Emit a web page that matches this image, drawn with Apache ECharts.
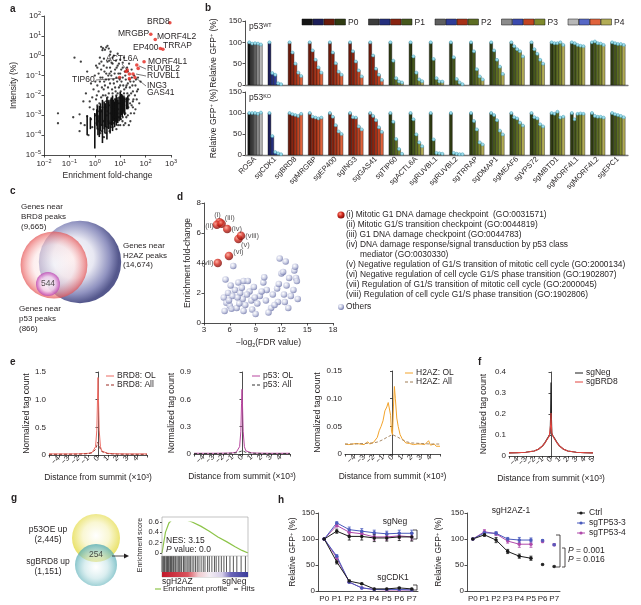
<!DOCTYPE html>
<html><head><meta charset="utf-8">
<script src="https://cdn.jsdelivr.net/npm/echarts@6.0.0/dist/echarts.min.js"></script>
<style>html,body{margin:0;padding:0;background:#fff;}#chart{width:641px;height:605px;}</style>
</head><body><div id="chart"></div>
<script>
const FF = '"Liberation Sans", Arial, Helvetica, sans-serif';
const TXT = '#231f20';

// ---------- Panel a : MS enrichment ----------
const aBlackLog = [
[-1.45,-2.9],[-1.45,-3.4],[-0.85,-3.1],[-0.6,-2.95],[-0.55,-3.4],[-0.45,-2.3],[-0.3,-3.05],[-0.2,-2.6],[-0.1,-3.6],[-0.8,-0.1],[-0.55,-0.3],[-0.3,-0.8],[-0.15,-1.4],[-0.35,-1.9],[-0.1,-2.1],[0.0,-1.0],[0.05,-0.5],[-0.6,-3.8],[-0.25,-4.0],[-0.4,-3.5],[-0.05,-1.7],[-0.2,-2.3],[-0.05,-2.7],[-0.15,-3.2],
[0.25,0.45],[0.32,0.38],[0.4,0.3],[0.45,0.42],[0.5,0.5],[0.55,0.36],[0.3,0.28],[0.62,0.2],[0.2,-0.1],
[0.1,-0.6],[0.15,-0.9],[0.2,-1.3],[0.25,-0.7],[0.3,-1.1],[0.35,-0.5],[0.4,-1.5],[0.45,-0.9],[0.5,-0.3],[0.55,-1.2],[0.6,-0.6],[0.65,-1.0],[0.7,-0.4],[0.75,-1.4],[0.8,-0.7],[0.85,-1.1],[0.9,-0.5],[0.95,-1.6],[1.0,-0.9],[1.05,-1.3],[1.1,-0.6],[1.15,-1.9],[1.2,-1.0],[1.25,-1.5],[1.3,-0.8],[0.15,-1.8],[0.25,-2.1],[0.35,-1.7],[0.45,-2.3],[0.55,-1.9],[0.65,-2.2],[0.75,-2.6],[0.85,-2.0],[0.95,-2.4],[1.05,-2.2],[1.15,-2.7],[1.25,-2.3],[1.35,-2.0],[1.4,-1.3],[1.45,-2.5],[1.5,-1.8],[1.55,-2.9],[1.6,-1.5],[1.65,-2.2],[1.7,-1.1],
[0.1,-2.5],[0.2,-3.0],[0.3,-2.6],[0.4,-3.2],[0.5,-2.8],[0.6,-3.4],[0.7,-3.0],[0.8,-3.3],[0.9,-2.9],[1.0,-3.5],[1.1,-3.1],[1.2,-3.4],[1.3,-3.0],[1.4,-3.3],[1.5,-2.6],[1.6,-2.7],[0.12,-3.7],[0.22,-3.9],[0.36,-4.1],[0.48,-3.6],[0.58,-3.8],[0.7,-3.6],[0.85,-3.7],
[1.35,-0.4],[1.0,-0.2],[0.9,0.1],[0.7,-0.1],[0.6,0.05],[1.1,-0.35],[1.45,-0.7],[1.55,-1.0],[1.7,-1.7],[1.8,-1.3],[1.75,-2.4],
[0.02,-1.3],[0.08,-2.0],[0.18,-0.4],[0.28,-1.6],[0.38,-0.8],[0.42,-2.0],[0.52,-1.6],[0.58,-0.9],[0.68,-1.7],[0.72,-2.4],[0.78,-0.9],[0.82,-1.8],[0.88,-1.3],[0.92,-2.7],[0.98,-1.2],[1.02,-1.8],[1.08,-2.6],[1.12,-1.5],[1.18,-2.2],[1.22,-1.2],[1.28,-1.9],[1.32,-2.6],[1.38,-1.6],[1.42,-2.9],[1.48,-1.5],[1.52,-2.2],
[0.05,-2.2],[0.1,-1.5],[0.12,-2.8],[0.18,-2.4],[0.22,-1.1],[0.27,-2.8],[0.32,-2.0],[0.33,-3.3],[0.37,-1.3],[0.42,-2.6],[0.44,-1.2],[0.47,-3.0],[0.5,-2.1],[0.53,-1.0],[0.56,-2.5],[0.6,-1.4],[0.62,-2.9],[0.64,-0.8],[0.67,-2.6],[0.7,-1.9],[0.73,-1.2],[0.76,-3.1],[0.79,-2.2],[0.8,-1.6],[0.83,-2.8],[0.86,-0.6],[0.87,-2.4],[0.9,-1.9],[0.93,-0.9],[0.95,-3.1],[0.97,-2.1],[1.0,-1.5],[1.02,-2.9],[1.04,-0.7],[1.07,-2.0],[1.09,-3.3],[1.1,-1.1],[1.13,-2.4],[1.16,-1.7],[1.18,-0.8],[1.2,-2.9],[1.23,-1.6],[1.26,-2.5],[1.27,-0.6],[1.3,-1.4],[1.33,-2.2],[1.36,-1.2],[1.39,-2.4],[1.43,-1.9],[1.46,-1.1],[1.5,-2.3],[1.53,-1.3],[1.58,-2.0],[1.62,-1.2],[1.66,-1.8],
[0.03,-3.0],[0.07,-3.4],[0.14,-3.3],[0.24,-3.5],[0.29,-3.8],[0.39,-3.5],[0.45,-3.9],[0.54,-3.3],[0.63,-3.6],[0.74,-3.4],[0.83,-3.2],[0.92,-3.5],[1.03,-3.2],[1.14,-3.5],[1.24,-3.1],[1.34,-3.5],[0.26,-0.3],[0.36,-0.15],[0.47,-0.6],[0.57,-0.25],[0.66,-0.35],[0.75,0.0],[0.83,-0.25],[0.95,-0.4],[1.15,-0.1]
];
// dense vertical streaks: [fold-change, low intensity, high intensity]
const aColumns = [[1,2.1e-5,1.3e-3],[1.33,1e-4,1e-3],[1.5,8e-5,3e-3],[2,4e-5,6e-3],[2.5,1.2e-4,4e-3],[3,6e-5,8e-3],[3.5,2e-4,5e-3],[4,1.2e-4,6e-3],[5,1.6e-4,1e-2],[6,2.5e-4,5e-3],[7,3e-4,1e-2],[8,4e-4,6e-3],[9,5e-4,8e-3],[10,6e-4,1.5e-2],[12,8e-4,1e-2],[15,1e-3,8e-3],[0.5,1e-4,1e-3],[0.67,2e-4,8e-4],
[1.2,3e-4,2e-3],[1.25,2e-4,3e-3],[1.67,1.5e-4,4e-3],[1.75,3e-4,2e-3],[2.33,2e-4,5e-3],[2.67,2.5e-4,4e-3],[3.33,3e-4,6e-3],[4.5,3e-4,8e-3],[5.5,5e-4,6e-3],[6.5,5e-4,7e-3],[7.5,6e-4,8e-3],[11,1e-3,1.2e-2],[13,1.2e-3,8e-3],[14,1.5e-3,1e-2],[18,2e-3,8e-3],[20,2e-3,1e-2]];
const aRedX = [900,160,240,380,480,87,45,51,32,38,23,17,9.5,23,19];
const aRedY = [46,12,6.6,2.3,2.1,0.5,0.34,0.23,0.12,0.08,0.07,0.16,0.08,0.12,0.19];
const aLabelText = ['BRD8','MRGBP','MORF4L2','EP400','TRRAP','ACTL6A','MORF4L1','RUVBL2','RUVBL1','TIP60','ING3','GAS41'];

// ---------- Panel b : competition assays ----------
const bCats = ['ROSA','sgCDK1','sgBRD8','sgMRGBP','sgEP400','sgING3','sgGAS41','sgTIP60','sgACTL6A','sgRUVBL1','sgRUVBL2','sgTRRAP','sgDMAP1','sgMEAF6','sgVPS72','sgMBTD1','sgMORF4L1','sgMORF4L2','sgEPC1'];
const bFamily = [0,1,2,2,2,2,2,3,3,3,3,3,3,3,3,3,3,3,3];
const bPassages = ['P0','P1','P2','P3','P4'];
const bWT = [
[100,97,98,97,95],[100,28,24,4,2],[100,76,50,29,21],[100,81,59,41,29],[100,76,51,31,24],[100,79,55,34,20],[100,69,38,24,12],[100,57,16,8,6],
[100,67,29,13,9],[100,61,16,8,8],[100,65,14,6,2],[100,79,37,20,13],[100,81,59,43,26],[100,91,84,79,67],[100,84,73,59,50],[100,98,98,100,94],[100,98,94,92,91],[100,102,98,97,94],[100,98,96,96,94]];
const bKO = [
[100,100,100,98,101],[100,45,7,4,2],[100,97,95,93,98],[100,91,89,87,89],[100,91,71,56,50],[100,90,89,68,61],[100,93,83,66,55],[100,79,38,14,3],
[100,85,49,30,21],[100,37,5,4,3],[100,5,3,2,2],[100,81,61,30,25],[100,95,83,58,49],[100,90,87,77,70],[100,90,87,73,68],[100,98,103,89,91],[100,85,98,99,98],[100,93,91,91,89],[100,97,95,93,90]];

// ---------- Panel c : Venn ----------
const cSetNames = ['H2AZ','BRD8','p53'];
const cCounts = [14674, 9665, 866];
const cOverlap = 544;

// ---------- Panel d : GO enrichment ----------
const dTermX = [4.8,4.5,5.05,5.7,7.0,5.9,4.6,7.3];
const dTermY = [6.72,6.55,6.62,6.27,5.6,4.47,4.0,5.82];
const dTermLab = ['(i)','(ii)','(iii)','(iv)','(v)','(vi)','(vii)','(viii)'];
const dOthers = [[5.3,1.7],[5.6,1.35],[5.8,2.0],[5.5,2.9],[6.0,1.15],[6.3,1.8],[6.4,3.8],[6.6,2.2],[6.2,0.95],[5.9,1.5],[7.0,2.7],[7.2,2.0],[7.5,1.6],[7.4,2.35],[7.8,1.2],[7.6,2.8],[8.1,2.8],[8.3,2.1],[8.5,1.5],[8.0,1.9],[8.8,2.4],[8.6,0.9],[9.2,1.3],[9.5,1.8],[9.9,2.7],[10.0,3.05],[10.3,2.2],[10.2,1.5],[10.8,1.0],[11.0,1.9],[11.5,2.3],[11.7,2.6],[11.8,4.3],[11.6,1.4],[12.0,3.3],[12.2,3.4],[12.5,4.1],[12.3,1.9],[12.6,2.5],[12.8,1.0],[13.1,1.8],[13.5,3.5],[13.6,3.75],[13.7,3.0],[13.4,2.2],[13.9,1.6],[6.8,1.0],[7.6,0.8],[9.0,0.6],[10.5,0.7],[5.4,0.8],[6.9,1.7],[8.9,1.7],[11.2,1.2],[13.8,2.8],[12.9,3.0],[6.1,2.5],[7.1,1.3],[9.7,2.1],[12.4,1.4]];
const dLegend = ['(i) Mitotic G1 DNA damage checkpoint  (GO:0031571)','(ii) Mitotic G1/S transition checkpoint (GO:0044819)','(iii) G1 DNA damage checkpoint (GO:0044783)','(iv) DNA damage response/signal transduction by p53 class','      mediator (GO:0030330)','(v) Negative regulation of G1/S transition of mitotic cell cycle (GO:2000134)','(vi) Negative regulation of cell cycle G1/S phase transition (GO:1902807)','(vii) Regulation of G1/S transition of mitotic cell cycle (GO:2000045)','(viii) Regulation of cell cycle G1/S phase transition (GO:1902806)'];

// ---------- Panel e / f : tag density profiles ----------
const eX = [-5,-4,-3,-2,-1.5,-1,-0.6,-0.4,-0.25,-0.12,-0.05,0,0.05,0.12,0.25,0.4,0.6,1,1.5,2,3,4,5];
const eBRD8OL = [0.02,0.02,0.02,0.022,0.025,0.03,0.045,0.07,0.15,0.45,1.0,1.4,1.0,0.45,0.15,0.07,0.045,0.03,0.025,0.022,0.02,0.02,0.02];
const eBRD8All = [0.012,0.012,0.013,0.015,0.018,0.025,0.04,0.06,0.1,0.17,0.23,0.25,0.23,0.17,0.1,0.06,0.04,0.025,0.018,0.015,0.013,0.012,0.012];
const eP53OL = [0.008,0.008,0.008,0.009,0.01,0.012,0.02,0.035,0.08,0.25,0.55,0.71,0.55,0.25,0.08,0.035,0.02,0.012,0.01,0.009,0.008,0.008,0.008];
const eP53All = [0.005,0.005,0.005,0.006,0.007,0.009,0.013,0.018,0.025,0.032,0.036,0.038,0.036,0.032,0.025,0.018,0.013,0.009,0.007,0.006,0.005,0.005,0.005];
const eH2AZOL = [[-5,0.018],[-4.8,0.02],[-4.6,0.017],[-4.4,0.019],[-4.2,0.018],[-4,0.016],[-3.8,0.019],[-3.6,0.017],[-3.4,0.018],[-3.2,0.02],[-3,0.017],[-2.8,0.019],[-2.6,0.022],[-2.4,0.018],[-2.2,0.02],[-2,0.021],[-1.8,0.024],[-1.6,0.03],[-1.4,0.042],[-1.2,0.05],[-1.0,0.06],[-0.8,0.078],[-0.6,0.085],[-0.45,0.093],[-0.3,0.096],[-0.2,0.07],[-0.1,0.04],[0,0.035],[0.1,0.085],[0.2,0.122],[0.3,0.1],[0.45,0.065],[0.6,0.05],[0.8,0.035],[1.0,0.028],[1.2,0.024],[1.4,0.02],[1.6,0.021],[1.8,0.019],[2,0.02],[2.2,0.017],[2.4,0.019],[2.6,0.018],[2.8,0.016],[3,0.018],[3.2,0.015],[3.4,0.017],[3.6,0.016],[3.8,0.024],[4,0.016],[4.2,0.015],[4.4,0.018],[4.6,0.014],[4.8,0.016],[5,0.014]];
const eH2AZAll = [[-5,0.018],[-4,0.018],[-3,0.019],[-2,0.02],[-1.5,0.022],[-1,0.026],[-0.5,0.031],[0,0.035],[0.5,0.031],[1,0.026],[1.5,0.022],[2,0.02],[3,0.019],[4,0.018],[5,0.018]];
const eTicks = [-4,-3,-2,-1,0,1,2,3,4];
const fX = [-5,-4,-3,-2,-1.5,-1,-0.7,-0.4,-0.2,-0.1,-0.04,0,0.04,0.1,0.2,0.4,0.7,1,1.5,2,3,4,5];
const fNeg = [0.015,0.016,0.018,0.024,0.032,0.048,0.065,0.085,0.098,0.108,0.2,0.35,0.2,0.108,0.098,0.085,0.065,0.048,0.032,0.024,0.018,0.016,0.015];
const fBRD8 = [0.015,0.016,0.018,0.024,0.032,0.048,0.064,0.083,0.096,0.105,0.15,0.205,0.15,0.105,0.096,0.083,0.064,0.048,0.032,0.024,0.018,0.016,0.015];
const fTicks = [-4,-3,-2,-1,0,1,2,3,4,5];

// ---------- Panel g : Venn + GSEA ----------
const gSetNames = ['p53OE up','sgBRD8 up'];
const gCounts = [2445, 1151];
const gOverlap = 254;
const gRank = [0,4,8,12,18,25,35,45,55,65,75,85,93,100];
const gES = [0,0.4,0.58,0.65,0.67,0.66,0.6,0.52,0.42,0.31,0.22,0.12,0.05,0];
const gHits = [0,1,2,3,4.5,5.5,6.5,7.5,9,10,11,12.5,13.5,15,16,17.5,19,20.5,22,23,25,26.5,28,30,31.5,33,35,37,39,41,43,45.5,48,50,53,55,58,61,63,66,69,72,75,79,83,87,92,97];
const gNES = 3.15, gP = '0.0';

// ---------- Panel h : competition time courses ----------
const hCats = ['P0','P1','P2','P3','P4','P5','P6','P7'];
const hNames = ['Ctrl','sgTP53-3','sgTP53-4'];
const hNeg = [[100,115,105,105,102,102,104,104],[100,131,118,115,112,110,111,111],[100,126,113,110,104,104,106,104]];
const hNegErr = [[0,4,7,7,7,6,7,8],[0,2,5,5,5,5,6,6],[0,3,5,5,6,6,5,6]];
const hCdk = [[100,56,19,14,4,4,6,4],[100,67,17,6,3,3,3,2],[100,64,17,6,3,2,2,2]];
const hCdkErr = [[0,4,2,1,1,1,1,1],[0,3,1,1,1,1,1,1],[0,3,1,1,1,1,1,1]];
const hH2AZ = [[100,108,98,76,67,63,51,47],[100,112,111,100,98,98,97,89],[100,114,110,96,90,90,95,89]];
const hH2AZErr = [[0,3,5,4,4,4,1,1],[0,3,3,3,5,4,2,1],[0,4,3,4,6,6,2,2]];
const hLinked = 6; // passages P0..P5 joined by a line in sgH2AZ-1

// ================= styling / building =================
const bPal = [
  ['#141414','#3c3c3c','#5f5f5f','#8b8b8b','#b7b7b7'],
  ['#1c1e5a','#252f7d','#2f3c98','#3b4aae','#5768c6'],
  ['#6b1b0c','#882410','#a73117','#c24422','#e0633c'],
  ['#2f3b12','#46581c','#5d6d23','#7f8a2d','#b2ac55']
];
const hCol = ['#1a1a1a','#4a5bbd','#b04aab'];
const supRich = {s:{fontSize:5.5, verticalAlign:'top', fontFamily:FF, color:TXT, lineHeight:6}};

function ax(g, o){
  const b = {gridIndex:g,
    axisLine:{show:true, lineStyle:{color:'#222', width:0.8}},
    axisTick:{show:true, length:2.5, lineStyle:{color:'#222', width:0.8}},
    axisLabel:{fontSize:8, color:TXT, fontFamily:FF, margin:3},
    splitLine:{show:false},
    nameTextStyle:{fontSize:8.5, color:TXT, fontFamily:FF, rich:supRich}};
  for (const k in o){
    if (b[k] && typeof b[k]==='object' && !Array.isArray(b[k]) && o[k] && typeof o[k]==='object' && !Array.isArray(o[k])) b[k] = Object.assign({}, b[k], o[k]);
    else b[k] = o[k];
  }
  return b;
}
const hid = (g, min, max, inv) => ({gridIndex:g, type:'value', min, max, show:false, inverse:!!inv});
const G = (l,t,w,h) => ({left:l, top:t, width:w, height:h, outerBoundsMode:'none', containLabel:false});
const logFmt = v => { const e = Math.round(Math.log10(v)); return '10{s|' + (e<0 ? '\u2212' + (-e) : e) + '}'; };
const signed = v => (v<0 ? '\u2212' + (-v) : '' + v);

const grids = [
  G(44,16,127,139),   //0 a
  G(245,21,383,64),   //1 b WT
  G(245,92,383,63),   //2 b KO
  G(0,190,170,140),   //3 c venn
  G(204,203,129,120), //4 d
  G(49,372,98,83),    //5 e1
  G(194,372,96,82),   //6 e2
  G(345,371,95,83),   //7 e3
  G(509,372,84,84),   //8 f
  G(20,505,110,90),   //9 g venn
  G(162,522,86,31),   //10 gsea ES
  G(162,556,86,16),   //11 gsea hits
  G(318,513,100,78),  //12 h1
  G(467,513,93,78)    //13 h2
];

const eXAxis = (g, ticks) => ax(g, {type:'value', min:-5, max:5, interval:1,
  axisLabel:{rotate:45, fontSize:7.5, margin:2, formatter: v => ticks.indexOf(v) >= 0 ? signed(v) : ''},
  name:'Distance from summit (\u00d710{s|3})', nameLocation:'middle', nameGap:18});

const xAxes = [
  ax(0,{type:'log', logBase:10, min:0.01, max:1000, splitNumber:5, axisLabel:{formatter:logFmt, rich:supRich, lineHeight:11},
        name:'Enrichment fold-change', nameLocation:'middle', nameGap:16}),
  ax(1,{type:'category', data:bCats, axisLabel:{show:false}, axisTick:{show:false}, axisLine:{show:true, lineStyle:{color:'#7a7a7a', width:1.3}}}),
  ax(2,{type:'category', data:bCats, axisLabel:{rotate:45, interval:0, fontSize:7.5, margin:3}, axisTick:{show:false}, axisLine:{show:true, lineStyle:{color:'#7a7a7a', width:1.3}}}),
  hid(3,0,170),
  ax(4,{type:'value', min:3, max:18, interval:3, name:'\u2212log{b|2}(FDR value)', nameLocation:'middle', nameGap:14,
        nameTextStyle:{rich:{b:{fontSize:5.5, verticalAlign:'bottom', fontFamily:FF, color:TXT, lineHeight:6}}, lineHeight:11}}),
  eXAxis(5, eTicks), eXAxis(6, eTicks), eXAxis(7, eTicks), eXAxis(8, fTicks),
  hid(9,0,110),
  hid(10,0,100), hid(11,0,100),
  ax(12,{type:'category', data:hCats, boundaryGap:true, axisTick:{show:false}, axisLabel:{fontSize:8, margin:4, interval:0}}),
  ax(13,{type:'category', data:hCats, boundaryGap:true, axisTick:{show:false}, axisLabel:{fontSize:8, margin:4, interval:0}})
];
const gfpName = 'Relative GFP{s|+} (%)';
const yAxes = [
  ax(0,{type:'log', logBase:10, min:1e-5, max:100, splitNumber:7, axisLabel:{formatter:logFmt, rich:supRich, lineHeight:11},
        name:'Intensity (%)', nameLocation:'middle', nameGap:26}),
  ax(1,{type:'value', min:0, max:150, interval:50, name:gfpName, nameLocation:'middle', nameGap:18}),
  ax(2,{type:'value', min:0, max:150, interval:50, name:gfpName, nameLocation:'middle', nameGap:18}),
  hid(3,0,140,true),
  ax(4,{type:'value', min:0, max:8, interval:2, name:'Enrichment fold-change', nameLocation:'middle', nameGap:12}),
  ax(5,{type:'value', min:0, max:1.5, interval:0.5, axisLabel:{formatter:v=>v===0?'0':v.toFixed(1)}, name:'Normalized tag count', nameLocation:'middle', nameGap:17}),
  ax(6,{type:'value', min:0, max:0.9, interval:0.3, axisLabel:{formatter:v=>v===0?'0':v.toFixed(1)}, name:'Normalized tag count', nameLocation:'middle', nameGap:17}),
  ax(7,{type:'value', min:0, max:0.15, interval:0.05, axisLabel:{formatter:v=>v===0?'0':v.toFixed(2)}, name:'Normalized tag count', nameLocation:'middle', nameGap:18}),
  ax(8,{type:'value', min:0, max:0.4, interval:0.1, axisLabel:{formatter:v=>v===0?'0':v.toFixed(1)}, name:'Normalized tag count', nameLocation:'middle', nameGap:21}),
  hid(9,0,90,true),
  ax(10,{type:'value', min:0, max:0.6, interval:0.2, axisLabel:{fontSize:7.5, formatter:v=>v===0?'0':v.toFixed(1)}, axisLine:{show:false}, axisTick:{length:2}}),
  hid(11,0,1),
  ax(12,{type:'value', min:0, max:150, interval:50, name:gfpName, nameLocation:'middle', nameGap:21}),
  ax(13,{type:'value', min:0, max:150, interval:50, name:gfpName, nameLocation:'middle', nameGap:24})
];

// ---- series ----
const series = [];
// a
series.push({type:'custom', xAxisIndex:0, yAxisIndex:0, silent:true, data:aColumns, encode:{x:0, y:[1,2]},
  renderItem:(p, api) => { const a = api.coord([api.value(0), api.value(1)]), b = api.coord([api.value(0), api.value(2)]);
    return {type:'line', shape:{x1:a[0], y1:a[1], x2:b[0], y2:b[1]}, style:{stroke:'#111', lineWidth:1.6}}; }});
series.push({type:'scatter', xAxisIndex:0, yAxisIndex:0, silent:true, symbolSize:2.3, itemStyle:{color:'#111'},
  data:aBlackLog.map(p => [Math.pow(10,p[0]), Math.pow(10,p[1])])});
series.push({type:'scatter', xAxisIndex:0, yAxisIndex:0, silent:true, symbolSize:3.6, itemStyle:{color:'#e3241b'},
  data:aRedX.map((x,i)=>[x, aRedY[i]])});

// b
function bRender(params, api){
  const ci = api.value(0), p = api.value(1), v = api.value(2);
  const top = api.coord([ci, v]), base = api.coord([ci, 0]);
  const band = api.size([1,0])[0];
  const bw = band*0.72/5;
  const x = top[0] - band*0.36 + p*bw;
  return {type:'group', children:[
    {type:'rect', shape:{x:x, y:top[1], width:bw, height:base[1]-top[1]}, style:{fill:bPal[bFamily[ci]][p], stroke:'#151515', lineWidth:0.4}},
    {type:'circle', shape:{cx:x+bw/2, cy:top[1], r:1.5}, style:{fill:'#a3dfec', stroke:'#3c9cb6', lineWidth:0.5}}
  ]};
}
const bData = arr => arr.flatMap((vals,ci)=>vals.map((v,p)=>[ci,p,v]));
series.push({type:'custom', xAxisIndex:1, yAxisIndex:1, silent:true, renderItem:bRender, data:bData(bWT), encode:{x:0, y:2}});
series.push({type:'custom', xAxisIndex:2, yAxisIndex:2, silent:true, renderItem:bRender, data:bData(bKO), encode:{x:0, y:2}});

// c venn (proportional circles)
const rad = (cx,cy,stops) => ({type:'radial', x:cx, y:cy, r:0.55, colorStops:stops});
const cStyle = [
  rad(0.42,0.45,[{offset:0,color:'#ffffff'},{offset:0.45,color:'#e2e2ef'},{offset:0.8,color:'#7477b0'},{offset:1,color:'#2a2e70'}]),
  rad(0.5,0.5,[{offset:0,color:'rgba(255,255,255,0.55)'},{offset:0.55,color:'rgba(252,222,222,0.6)'},{offset:0.85,color:'rgba(236,110,110,0.85)'},{offset:1,color:'rgba(212,45,45,1)'}]),
  rad(0.5,0.5,[{offset:0,color:'#ffffff'},{offset:0.55,color:'#f3d2f0'},{offset:0.85,color:'#c85cbf'},{offset:1,color:'#9b2a92'}])
];
const cPos = [[80,72],[54,75],[48,94]];
const cScale = 0.34;
series.push({type:'scatter', xAxisIndex:3, yAxisIndex:3, silent:true,
  data:cCounts.map((n,i)=>({value:cPos[i], symbolSize:2*Math.max(cScale*Math.sqrt(n), 12), itemStyle:{color:cStyle[i]},
    label: i===2 ? {show:true, position:'inside', formatter:''+cOverlap, fontSize:8.5, color:TXT, fontFamily:FF} : {show:false}}))});

// d
const ballOthers = {type:'radial', x:0.38, y:0.35, r:0.65, colorStops:[{offset:0,color:'#ffffff'},{offset:0.55,color:'#c2c6e0'},{offset:1,color:'#7077aa'}]};
const ballRed = {type:'radial', x:0.38, y:0.35, r:0.65, colorStops:[{offset:0,color:'#ff9d8c'},{offset:0.5,color:'#d42a1e'},{offset:1,color:'#7d0c08'}]};
const dLabPos = [['top',[-2,2]],['left',[2,1]],['top',[8,3]],['right',[-1,0]],['bottom',[7,-3]],['right',[-1,-4]],['left',[1,0]],['right',[-1,0]]];
series.push({type:'scatter', xAxisIndex:4, yAxisIndex:4, silent:true, symbolSize:6.5, itemStyle:{color:ballOthers}, data:dOthers});
series.push({type:'scatter', xAxisIndex:4, yAxisIndex:4, silent:true, symbolSize:8.5, itemStyle:{color:ballRed},
  data:dTermX.map((x,i)=>({value:[x, dTermY[i]], label:{show:true, formatter:dTermLab[i], position:dLabPos[i][0], offset:dLabPos[i][1], distance:1, fontSize:7.5, color:TXT, fontFamily:FF}}))});

// e / f
const ln = (g, data, color, dash, w) => ({type:'line', xAxisIndex:g, yAxisIndex:g, silent:true, symbol:'none', data, lineStyle:{color, width:w||1, type:dash?[3,2]:'solid'}});
const zip = (xs, ys) => xs.map((x,i)=>[x, ys[i]]);
series.push(ln(5, zip(eX,eBRD8OL), '#ec6a62'));
series.push(ln(5, zip(eX,eBRD8All), '#9b2a22', true, 0.9));
series.push(ln(6, zip(eX,eP53OL), '#b8479f'));
series.push(ln(6, zip(eX,eP53All), '#333333', true, 0.9));
series.push(ln(7, eH2AZOL, '#f3a42c'));
series.push(ln(7, eH2AZAll, '#9e7c55', true, 0.9));
series.push(ln(8, zip(fX,fNeg), '#1a1a1a', false, 1.1));
series.push(ln(8, zip(fX,fBRD8), '#e2453f', false, 1.1));

// g venn
const gStyle = [
  rad(0.5,0.45,[{offset:0,color:'#ffffff'},{offset:0.5,color:'#f8f5c8'},{offset:1,color:'#e2d838'}]),
  rad(0.5,0.55,[{offset:0,color:'rgba(255,255,255,0.55)'},{offset:0.5,color:'rgba(190,225,228,0.7)'},{offset:1,color:'rgba(70,165,175,0.92)'}])
];
const gPos = [[76,33],[76,60]];
const gDiam = [48, 42];
series.push({type:'scatter', xAxisIndex:9, yAxisIndex:9, silent:true,
  data:gCounts.map((n,i)=>({value:gPos[i], symbolSize:gDiam[i], itemStyle:{color:gStyle[i]}, label:{show:false}}))});
series.push({type:'scatter', xAxisIndex:9, yAxisIndex:9, silent:true, symbolSize:0,
  data:[{value:[76,50], label:{show:true, position:'inside', formatter:''+gOverlap, fontSize:8.5, color:TXT, fontFamily:FF}}]});

// g gsea
series.push({type:'line', xAxisIndex:10, yAxisIndex:10, silent:true, symbol:'none', data:zip(gRank,gES), lineStyle:{color:'#8dc449', width:1.2}});
series.push({type:'custom', xAxisIndex:11, yAxisIndex:11, silent:true, data:gHits.map(h=>[h]), encode:{x:0},
  renderItem:(p, api) => { const c = api.coord([api.value(0), 0]); const cs = p.coordSys;
    return {type:'line', shape:{x1:c[0], y1:cs.y, x2:c[0], y2:cs.y+cs.height}, style:{stroke:'#111', lineWidth:0.7}}; }});

// h
function errRender(color){
  return function(params, api){
    const i = api.value(0), m = api.value(1), e = api.value(2);
    const a = api.coord([i, m+e]), b = api.coord([i, m-e]);
    return {type:'group', children:[
      {type:'line', shape:{x1:a[0],y1:a[1],x2:b[0],y2:b[1]}, style:{stroke:color, lineWidth:0.8}},
      {type:'line', shape:{x1:a[0]-1.5,y1:a[1],x2:a[0]+1.5,y2:a[1]}, style:{stroke:color, lineWidth:0.8}},
      {type:'line', shape:{x1:b[0]-1.5,y1:b[1],x2:b[0]+1.5,y2:b[1]}, style:{stroke:color, lineWidth:0.8}}]};
  };
}
function hSeries(g, vals, errs, joinAll){
  for (let k = 2; k >= 0; k--){
    const c = hCol[k];
    series.push({type:'custom', xAxisIndex:g, yAxisIndex:g, silent:true, renderItem:errRender(c), encode:{x:0,y:1},
      data:vals[k].map((v,i)=>[i, v, errs[k][i]])});
    const lineData = vals[k].map((v,i)=> (joinAll || i < hLinked) ? v : null);
    series.push({type:'line', name:hNames[k], xAxisIndex:g, yAxisIndex:g, silent:true, data:lineData, symbol:'circle', symbolSize:3.5,
      showAllSymbol:true, connectNulls:false, lineStyle:{color:c, width:1}, itemStyle:{color:c}});
    if (!joinAll){
      series.push({type:'scatter', xAxisIndex:g, yAxisIndex:g, silent:true, symbolSize:3.5, itemStyle:{color:c},
        data:vals[k].map((v,i)=> i >= hLinked ? [i, v] : null).filter(d=>d)});
    }
  }
}
hSeries(12, hNeg, hNegErr, true);
hSeries(12, hCdk, hCdkErr, true);
hSeries(13, hH2AZ, hH2AZErr, false);

// ---- graphic annotations ----
const T = (text, x, y, o) => ({type:'text', x, y, silent:true, z:10,
  style:Object.assign({text, fontSize:8, fontFamily:FF, fill:TXT, textAlign:'left', align:'left', textVerticalAlign:'middle', verticalAlign:'middle'}, o||{})});
const L = (x1,y1,x2,y2,o) => ({type:'line', silent:true, z:10, shape:{x1,y1,x2,y2}, style:Object.assign({stroke:TXT, lineWidth:0.8}, o||{})});
const PL = (pts,o) => ({type:'polyline', silent:true, z:10, shape:{points:pts}, style:Object.assign({stroke:TXT, lineWidth:0.8, fill:null}, o||{})});
const R = (x,y,w,h,o) => ({type:'rect', silent:true, z:9, shape:{x,y,width:w,height:h}, style:Object.assign({fill:'none', stroke:TXT, lineWidth:0.5}, o||{})});
const el = [];
// panel letters
[['a',10,9],['b',205,8],['c',10,191],['d',177,197],['e',10,362],['f',478,362],['g',11,498],['h',278,500]]
  .forEach(p => el.push(T(p[0], p[1], p[2], {fontSize:10, fontWeight:'bold'})));
// a labels
const aLabPos = [[147,22],[118,34],[157,37],[133,48],[163,46],[106,59],[148,62],[147,69],[147,76],[72,80],[147,86],[147,93]];
aLabelText.forEach((t,i)=> el.push(T(t, aLabPos[i][0], aLabPos[i][1], {fontSize:8.5})));
el.push(L(96,80,121,78,{lineWidth:0.6}), L(146,69,139,66,{lineWidth:0.6}), L(146,76,136,74,{lineWidth:0.6}), L(146,86,136,78,{lineWidth:0.6}), L(122,64,127,70,{lineWidth:0.6}));
// b legend and condition tags
bPassages.forEach((p,g) => {
  const x0 = 302 + g*66.5;
  for (let f = 0; f < 4; f++) el.push(R(x0 + f*11, 19, 10.5, 6, {fill:bPal[f][g], stroke:'#111', lineWidth:0.5}));
  el.push(T(p, x0 + 46, 22.5, {fontSize:8.5}));
});
el.push(T('p53{s|WT}', 249, 27, {fontSize:8.5, rich:supRich}));
el.push(T('p53{s|KO}', 249, 98, {fontSize:8.5, rich:supRich}));
// c labels
[['Genes near',21,207],['BRD8 peaks',21,217],['(9,665)',21,227],['Genes near',123,246],['H2AZ peaks',123,256],['(14,674)',123,265],['Genes near',19,309],['p53 peaks',19,319],['(866)',19,329]]
  .forEach(t => el.push(T(t[0], t[1], t[2], {fontSize:8})));
// d legend
el.push({type:'circle', silent:true, z:10, shape:{cx:341, cy:215, r:3.6}, style:{fill:ballRed}});
dLegend.forEach((t,i) => el.push(T(t, 346, 215 + i*9.9, {fontSize:8.4})));
el.push({type:'circle', silent:true, z:10, shape:{cx:341, cy:307, r:3}, style:{fill:ballOthers}});
el.push(T('Others', 346, 307, {fontSize:8.4}));
// e/f legends
const legLine = (x, y, color, dash, label) => { el.push(L(x, y, x+8, y, {stroke:color, lineWidth:1, lineDash:dash?[3,2]:null})); el.push(T(label, x+11, y, {fontSize:8.5})); };
legLine(106,376,'#ec6a62',false,'BRD8: OL'); legLine(106,385,'#9b2a22',true,'BRD8: All');
legLine(252,376,'#b8479f',false,'p53: OL');  legLine(252,385,'#333333',true,'p53: All');
legLine(405,373,'#f3a42c',false,'H2AZ: OL'); legLine(405,382,'#9e7c55',true,'H2AZ: All');
legLine(575,373,'#1a1a1a',false,'sgNeg');    legLine(575,382,'#e2453f',false,'sgBRD8');
// g labels
el.push(T(gSetNames[0], 48, 530, {textAlign:'center', align:'center', fontSize:8.5}));
el.push(T('(2,445)', 48, 540, {textAlign:'center', align:'center', fontSize:8.5}));
el.push(T(gSetNames[1], 48, 562, {textAlign:'center', align:'center', fontSize:8.5}));
el.push(T('(1,151)', 48, 572, {textAlign:'center', align:'center', fontSize:8.5}));
el.push(L(112,556,126,556,{lineWidth:0.8}));
el.push({type:'polygon', silent:true, z:10, shape:{points:[[129,556],[124,553.5],[124,558.5]]}, style:{fill:TXT}});
el.push(R(162,517,86,60,{stroke:'#9a9a9a', lineWidth:0.6, fill:null}));
el.push(L(162,556,248,556,{stroke:'#9a9a9a', lineWidth:0.5}));
el.push(R(162,572,86,5,{stroke:null, lineWidth:0, fill:{type:'linear', x:0, y:0, x2:1, y2:0, colorStops:[
  {offset:0,color:'#c0182a'},{offset:0.3,color:'#d9545e'},{offset:0.42,color:'#f0c8cc'},{offset:0.55,color:'#f4eef4'},{offset:0.7,color:'#d5cde8'},{offset:0.8,color:'#6a64b8'},{offset:1,color:'#3a3c9a'}]}}));
el.push(T('NES: ' + gNES.toFixed(2), 166, 541, {fontSize:8.5}));
el.push(T('{i|P} value: ' + gP, 166, 550, {fontSize:8.5, rich:{i:{fontStyle:'italic', fontSize:8.5, fontFamily:FF, fill:TXT, color:TXT}}}));
el.push(T('sgH2AZ', 162, 582, {fontSize:8.5}));
el.push(T('sgNeg', 222, 582, {fontSize:8.5}));
const esTitle = T('Enrichment score', 140, 545, {fontSize:7, textAlign:'center', align:'center'});
esTitle.rotation = Math.PI/2;
el.push(esTitle);
el.push(L(155,589,161,589,{stroke:'#8dc449', lineWidth:1.2}));
el.push(T('Enrichment profile', 163, 589, {fontSize:8}));
el.push(L(234,589,238,589,{stroke:'#111', lineWidth:1}));
el.push(T('Hits', 241, 589, {fontSize:8}));
// h annotations
el.push(T('sgNeg', 395, 522, {textAlign:'center', align:'center', fontSize:8.5}));
el.push(T('sgCDK1', 393, 578, {textAlign:'center', align:'center', fontSize:8.5}));
el.push(T('sgH2AZ-1', 511, 511, {textAlign:'center', align:'center', fontSize:8.5}));
el.push(PL([[413,530],[417,530],[417,539],[413,539]]));
el.push(PL([[413,585],[417,585],[417,590],[413,590]]));
hNames.forEach((n,k) => {
  const y = 513 + k*10;
  el.push(L(577, y, 585, y, {stroke:hCol[k], lineWidth:1}));
  el.push({type:'circle', silent:true, z:10, shape:{cx:581, cy:y, r:1.6}, style:{fill:hCol[k]}});
  el.push(T(n, 589, y, {fontSize:8.5}));
});
el.push(PL([[556,535],[560,535],[560,567],[556,567]]));
el.push(PL([[562,548],[565,548],[565,567],[562,567]]));
const iRich = {i:{fontStyle:'italic', fontSize:8.5, fontFamily:FF, fill:TXT, color:TXT}};
el.push(T('{i|P} = 0.001', 568, 551, {fontSize:8.5, rich:iRich}));
el.push(T('{i|P} = 0.016', 568, 560, {fontSize:8.5, rich:iRich}));

const option = {
  animation:false,
  backgroundColor:'#ffffff',
  textStyle:{fontFamily:FF, color:TXT},
  grid:grids, xAxis:xAxes, yAxis:yAxes, series:series,
  graphic:{elements:el}
};
const chart = echarts.init(document.getElementById('chart'), null, {renderer:'canvas'});
chart.setOption(option);
</script></body></html>
